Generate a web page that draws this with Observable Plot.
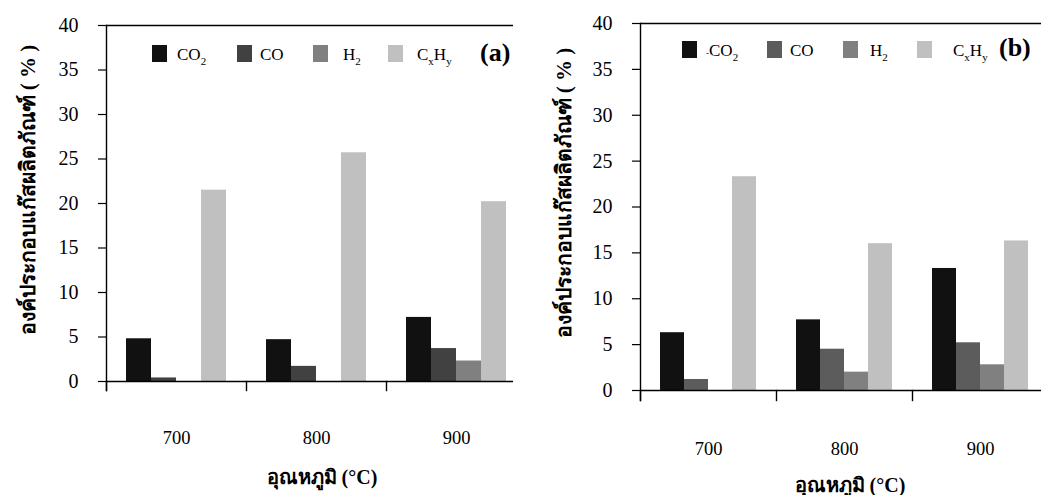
<!DOCTYPE html>
<html>
<head>
<meta charset="utf-8">
<script src="https://cdn.jsdelivr.net/npm/d3@7"></script>
<script src="https://cdn.jsdelivr.net/npm/@observablehq/plot@0.6"></script>
<style>
  html, body { margin: 0; padding: 0; background: #fff; }
  #root { position: relative; width: 1051px; height: 495px; overflow: hidden; font-family: "Liberation Serif", "Times New Roman", serif; color: #000; }
  #root svg, #root svg text { font-family: "Liberation Serif", "Times New Roman", serif !important; }
  .sw { position: absolute; }
  .lg { position: absolute; font-size: 17px; line-height: 17px; white-space: nowrap; }
  .lg sub { font-size: 11px; vertical-align: -5px; line-height: 0; }
  .tag { position: absolute; font-size: 26px; font-weight: bold; line-height: 26px; }
  .ytitle { position: absolute; font-weight: bold; font-size: 21px; transform: translate(-50%, -50%) rotate(-90deg); white-space: nowrap; }
  .xtitle { position: absolute; font-weight: bold; font-size: 20px; transform: translate(-50%, -50%); white-space: nowrap; }
</style>
</head>
<body>
<div id="root"></div>
<script>
// ---- data ----
const temps = ["700", "800", "900"];
const gases = ["CO2", "CO", "H2", "CxHy"];
const yTicks = [0, 5, 10, 15, 20, 25, 30, 35, 40];

// panel (a)
const a_CO2 = [4.8, 4.7, 7.2];
const a_CO = [0.4, 1.7, 3.7];
const a_H2 = [0, 0, 2.3];
const a_CxHy = [21.5, 25.7, 20.2];
const a_colors = ["#111111", "#414141", "#808080", "#c0c0c0"];

// panel (b)
const b_CO2 = [6.3, 7.7, 13.3];
const b_CO = [1.2, 4.5, 5.2];
const b_H2 = [0, 2.0, 2.8];
const b_CxHy = [23.3, 16.0, 16.3];
const b_colors = ["#111111", "#5c5c5c", "#808080", "#c0c0c0"];

const yTitle = "องค์ประกอบแก๊สผลิตภัณฑ์ ( % )";
const xTitle = "อุณหภูมิ (°C)";

function rowsOf(series) {
  const rows = [];
  temps.forEach((t, i) => gases.forEach((g, j) => rows.push({temp: t, gas: g, value: series[j][i]})));
  return rows;
}

function panel(cfg) {
  const rows = rowsOf(cfg.series);
  const lastT = temps[temps.length - 1];
  const lineData = temps.flatMap(t => [0, 40].map(v => ({t, v})));
  const frameTop = cfg.marginTop;
  const font = "'Liberation Serif', 'Times New Roman', serif";
  return Plot.plot({
    width: cfg.width,
    height: cfg.height,
    marginLeft: cfg.marginLeft,
    marginRight: cfg.marginRight,
    marginTop: cfg.marginTop,
    marginBottom: cfg.marginBottom,
    style: {fontFamily: font, color: "#000", background: "transparent", overflow: "visible"},
    fx: {domain: temps, padding: 0, label: null},
    x: {domain: gases, paddingInner: 0, paddingOuter: 0.8, axis: null},
    y: {domain: [0, 40], range: [cfg.zeroY, frameTop], label: null},
    color: {domain: gases, range: cfg.colors},
    marks: [
      Plot.barY(rows, {fx: "temp", x: "gas", y: "value", fill: "gas"}),
      Plot.ruleY(lineData, {fx: "t", y: "v", stroke: "#000", strokeWidth: 1.4, filter: d => d.t !== lastT}),
      Plot.ruleY(lineData, {fx: "t", y: "v", stroke: "#000", strokeWidth: 1.4, filter: d => d.t === lastT, insetRight: cfg.cut}),
      Plot.frame({anchor: "left", insetTop: cfg.zeroY - frameTop, stroke: "#000", strokeWidth: 1.4}),
      Plot.frame({anchor: "left", facetAnchor: "left", stroke: "#000", strokeWidth: 1.4}),
      Plot.axisY({ticks: yTicks, tickSize: 8, tickPadding: 20, fontSize: 20, fontFamily: font, label: null, tickFormat: d => String(d), strokeWidth: 1.2}),
      Plot.axisFx({anchor: "bottom", tickSize: 0, tickPadding: cfg.fxPad, fontSize: 18.5, fontFamily: font, label: null})
    ]
  });
}

const root = document.getElementById("root");

function place(el, left, top) {
  el.style.position = "absolute";
  el.style.left = left + "px";
  el.style.top = top + "px";
  root.appendChild(el);
}

const svgA = panel({series: [a_CO2, a_CO, a_H2, a_CxHy], colors: a_colors,
  width: 530, height: 460, marginLeft: 105, marginRight: 4, marginTop: 25, marginBottom: 70,
  zeroY: 381, cut: 13, fxPad: 40});
place(svgA, 0, 0);

const svgB = panel({series: [b_CO2, b_CO, b_H2, b_CxHy], colors: b_colors,
  width: 531, height: 470, marginLeft: 119, marginRight: 2, marginTop: 23, marginBottom: 70,
  zeroY: 390, cut: 7, fxPad: 41});
place(svgB, 520, 0);

// legends (inside plot areas)
const legendLabels = ["CO<sub>2</sub>", "CO", "H<sub>2</sub>", "C<sub>x</sub>H<sub>y</sub>"];
function legend(colors, swX, swTop, lbX, lbTop, tag, tagX, tagTop, prefix) {
  gases.forEach((g, i) => {
    const s = document.createElement("div");
    s.className = "sw";
    s.style.left = swX[i] + "px"; s.style.top = swTop + "px";
    s.style.width = "15px"; s.style.height = "17px";
    s.style.background = colors[i];
    root.appendChild(s);
    const l = document.createElement("div");
    l.className = "lg";
    l.style.left = lbX[i] + "px"; l.style.top = lbTop + "px";
    l.innerHTML = (i === 0 && prefix ? prefix : "") + legendLabels[i];
    root.appendChild(l);
  });
  const t = document.createElement("div");
  t.className = "tag";
  t.style.left = tagX + "px"; t.style.top = tagTop + "px";
  t.textContent = tag;
  root.appendChild(t);
}
legend(a_colors, [152, 237, 313, 388], 45, [177, 260, 343, 417], 46, "(a)", 480, 40, "");
legend(b_colors, [682, 767, 843, 917], 41, [706, 790, 870, 953], 42, "(b)", 999, 35, "<span style='font-size:9px'>-</span>");

function title(cls, text, x, y) {
  const d = document.createElement("div");
  d.className = cls;
  d.textContent = text;
  d.style.left = x + "px"; d.style.top = y + "px";
  root.appendChild(d);
}
title("ytitle", yTitle, 27, 190);
title("ytitle", yTitle, 563, 193);
title("xtitle", xTitle, 322, 477);
title("xtitle", xTitle, 850, 485);
</script>
</body>
</html>
